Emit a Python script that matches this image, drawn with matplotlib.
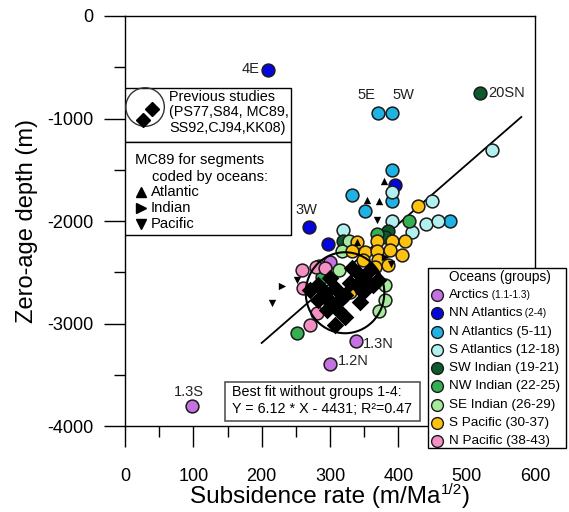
import matplotlib
matplotlib.use("Agg")
import matplotlib.pyplot as plt
from matplotlib.patches import Ellipse, Rectangle, Circle

plt.rcParams["font.family"] = ["Liberation Sans", "DejaVu Sans"]
plt.rcParams["axes.unicode_minus"] = False

# ocean groups, values (x: m/Ma^1/2, y: m)
arctic_x = [98, 300, 338, 300]
arctic_y = [-3805, -3395, -3171, -2400]
nn_atl_x = [209, 269, 297, 395]
nn_atl_y = [-527, -2059, -2224, -1649]
n_atl_x = [370, 391, 391, 391, 332, 351, 476]
n_atl_y = [-946, -946, -1502, -1805, -1746, -1902, -2000]
s_atl_x = [537, 391, 449, 391, 440, 458, 420, 319]
s_atl_y = [-1307, -1717, -1805, -2000, -2029, -2000, -2107, -2088]
sw_ind_x = [520, 385, 319, 380]
sw_ind_y = [-751, -2098, -2195, -2156]
nw_ind_x = [416, 369, 288, 252]
nw_ind_y = [-2000, -2127, -2546, -3093]
se_ind_x = [328, 318, 313, 380, 380, 372, 284]
se_ind_y = [-2195, -2293, -2478, -2624, -2771, -2880, -2440]
s_pac_x = [429, 340, 369, 391, 410, 332, 351, 369, 388, 348, 370, 385, 366, 329, 405]
s_pac_y = [-1854, -2205, -2195, -2195, -2195, -2293, -2302, -2293, -2283, -2380, -2380,
           -2429, -2449, -2693, -2330]
n_pac_x = [280, 259, 260, 300, 281, 271, 293]
n_pac_y = [-2449, -2478, -2654, -2800, -2898, -3015, -2459]

# previous studies (diamonds) and MC89 segments (triangles)
prev_x = [300, 282, 293, 307, 282, 303, 312, 322, 307, 341, 351, 340, 363, 348, 344,
          370, 322, 329, 271, 315, 358, 296, 332]
prev_y = [-2556, -2624, -2702, -2654, -2771, -2800, -2868, -2937, -3015, -2507, -2576,
          -2624, -2624, -2693, -2790, -2576, -2722, -2605, -2673, -2771, -2478, -2868, -2459]
tri_atl_x = [379, 354, 372, 340, 366]
tri_atl_y = [-1610, -1795, -1805, -2205, -2480]
tri_ind_x = [230, 380]
tri_ind_y = [-2634, -2350]
tri_pac_x = [369, 215, 252, 389]
tri_pac_y = [-1990, -2800, -2576, -2420]

# drawn best-fit line and ellipse around the previous studies
fit_x = [200, 580]
fit_y = [-3190, -985]
ell_center = (322, -2700)
ell_size = (115, 790)

GROUPS = [
    ("Arctics", " (1.1-1.3)", "#c472e2", arctic_x, arctic_y),
    ("NN Atlantics", " (2-4)", "#0505e0", nn_atl_x, nn_atl_y),
    ("N Atlantics (5-11)", "", "#1fb3e5", n_atl_x, n_atl_y),
    ("S Atlantics (12-18)", "", "#b2f0f0", s_atl_x, s_atl_y),
    ("SW Indian (19-21)", "", "#0c5b2d", sw_ind_x, sw_ind_y),
    ("NW Indian (22-25)", "", "#33b052", nw_ind_x, nw_ind_y),
    ("SE Indian (26-29)", "", "#a6eb9c", se_ind_x, se_ind_y),
    ("S Pacific (30-37)", "", "#fdc20f", s_pac_x, s_pac_y),
    ("N Pacific (38-43)", "", "#f590c4", n_pac_x, n_pac_y),
]

# (label, x, y, offset in points, ha)
POINT_LABELS = [
    ("4E", 209, -527, (-6, 1), "right"),
    ("5E", 370, -946, (-8, 13), "center"),
    ("5W", 391, -946, (8, 13), "center"),
    ("20SN", 520, -751, (6, 0), "left"),
    ("3W", 269, -2059, (-2, 12), "center"),
    ("1.3N", 338, -3171, (5, -2), "left"),
    ("1.2N", 300, -3395, (6, 2), "left"),
    ("1.3S", 98, -3805, (-2, 10), "center"),
]

W, H = 569, 512
fig = plt.figure(figsize=(W / 100, H / 100), dpi=100, facecolor="white")
ax = fig.add_axes([125 / W, 86 / H, 410 / W, 410 / H])

ax.plot(fit_x, fit_y, color="black", lw=1.3, zorder=2)
for name, small, color, xs, ys in GROUPS:
    ax.scatter(xs, ys, s=85, color=color, edgecolor="#1a1a1a", linewidth=1.1, zorder=3)
ax.add_patch(Ellipse(ell_center, *ell_size, fill=False, ec="black", lw=1.5, zorder=4))
ax.scatter(prev_x, prev_y, marker="D", s=80, color="black", linewidth=0, zorder=5)
ax.scatter(tri_atl_x, tri_atl_y, marker="^", s=28, color="black", linewidth=0, zorder=6)
ax.scatter(tri_ind_x, tri_ind_y, marker=">", s=28, color="black", linewidth=0, zorder=6)
ax.scatter(tri_pac_x, tri_pac_y, marker="v", s=28, color="black", linewidth=0, zorder=6)

for text, x, y, off, ha in POINT_LABELS:
    ax.annotate(text, (x, y), xytext=off, textcoords="offset points",
                ha=ha, va="center", fontsize=10.5, color="#222222")

ax.set_xlim(0, 600)
ax.set_ylim(-4000, 0)
ax.set_xticks(range(0, 601, 100))
ax.set_xticks(range(50, 600, 100), minor=True)
ax.set_yticks(range(-4000, 1, 1000))
ax.set_yticks(range(-3500, 0, 1000), minor=True)
ax.tick_params(which="major", direction="out", length=15, width=1, labelsize=13,
               colors="black")
ax.tick_params(which="minor", direction="out", length=8, width=1)
ax.tick_params(axis="x", pad=15.5)
ax.tick_params(axis="y", pad=8)
for spine in ax.spines.values():
    spine.set_linewidth(1)
ax.set_ylabel("Zero-age depth (m)", fontsize=17, labelpad=6)

# x label built from pieces so the small superscript stays clear of the ticks
renderer = fig.canvas.get_renderer()
base = 9  # baseline, px from bottom
pieces = [("Subsidence rate (m/Ma", 17.5, 0), ("1/2", 11, 9), (")", 17.5, 0)]
texts, x_px = [], 0.0
for s, size, rise in pieces:
    t = fig.text(x_px / W, (base + rise) / H, s, fontsize=size, va="baseline")
    texts.append(t)
    x_px = t.get_window_extent(renderer).x1
shift = 330 - x_px / 2
for t in texts:
    tx, ty = t.get_position()
    t.set_position((tx + shift / W, ty))

# upper-left key boxes
T = ax.transAxes
ax.add_patch(Rectangle((0, 0.693), 0.405, 0.131, transform=T, fc="white", ec="black",
                       lw=1, zorder=7))
ax.add_patch(Rectangle((0, 0.466), 0.405, 0.227, transform=T, fc="white", ec="black",
                       lw=1, zorder=7))
ax.add_patch(Circle((0.049, 0.778), 0.047, transform=T, fill=False, ec="#333333",
                    lw=1, zorder=8))
ax.plot([0.066, 0.044], [0.773, 0.746], "D", color="black", ms=7.5, transform=T,
        zorder=8, clip_on=False)
for i, line in enumerate(["Previous studies", "(PS77,S84, MC89,", "SS92,CJ94,KK08)"]):
    ax.text(0.107, 0.802 - 0.037 * i, line, transform=T, fontsize=10.4, va="center",
            zorder=8)
ax.text(0.024, 0.649, "MC89 for segments", transform=T, fontsize=10.6, va="center",
        zorder=8)
ax.text(0.066, 0.607, "coded by oceans:", transform=T, fontsize=10.6, va="center",
        zorder=8)
for i, (mk, lab) in enumerate([("^", "Atlantic"), (">", "Indian"), ("v", "Pacific")]):
    fy = 0.571 - 0.039 * i
    ax.plot([0.039], [fy], mk, color="black", ms=6.5, transform=T, zorder=8)
    ax.text(0.063, fy, lab, transform=T, fontsize=10.6, va="center", zorder=8)

# best-fit box
ax.text(0.261, 0.083, "Best fit without groups 1-4:", transform=T, fontsize=10.3,
        va="center", zorder=8)
ax.text(0.261, 0.041, "Y = 6.12 * X - 4431; R\u00b2=0.47", transform=T, fontsize=10.3,
        va="center", zorder=8)
ax.add_patch(Rectangle((0.244, 0.012), 0.476, 0.095, transform=T, fc="white",
                       ec="#555555", lw=1.2, zorder=7))

# ocean-groups legend
ax.add_patch(Rectangle((0.739, -0.054), 0.337, 0.439, transform=T, fc="white",
                       ec="black", lw=1, zorder=7, clip_on=False))
ax.text(0.915, 0.363, "Oceans (groups)", transform=T, fontsize=9.8, ha="center",
        va="center", zorder=8)
for i, (name, small, color, xs, ys) in enumerate(GROUPS):
    fy = 0.3195 - 0.0446 * i
    ax.plot([0.761], [fy], "o", ms=8.5, color=color, mec="#1a1a1a", mew=1,
            transform=T, clip_on=False, zorder=8)
    t = ax.text(0.790, fy, name, transform=T, fontsize=9.7, va="center", zorder=8)
    if small:
        ax.annotate(small, xy=(1, 0.5), xycoords=t, fontsize=7.2, va="center", zorder=8)

fig.savefig("out.png", dpi=100)
